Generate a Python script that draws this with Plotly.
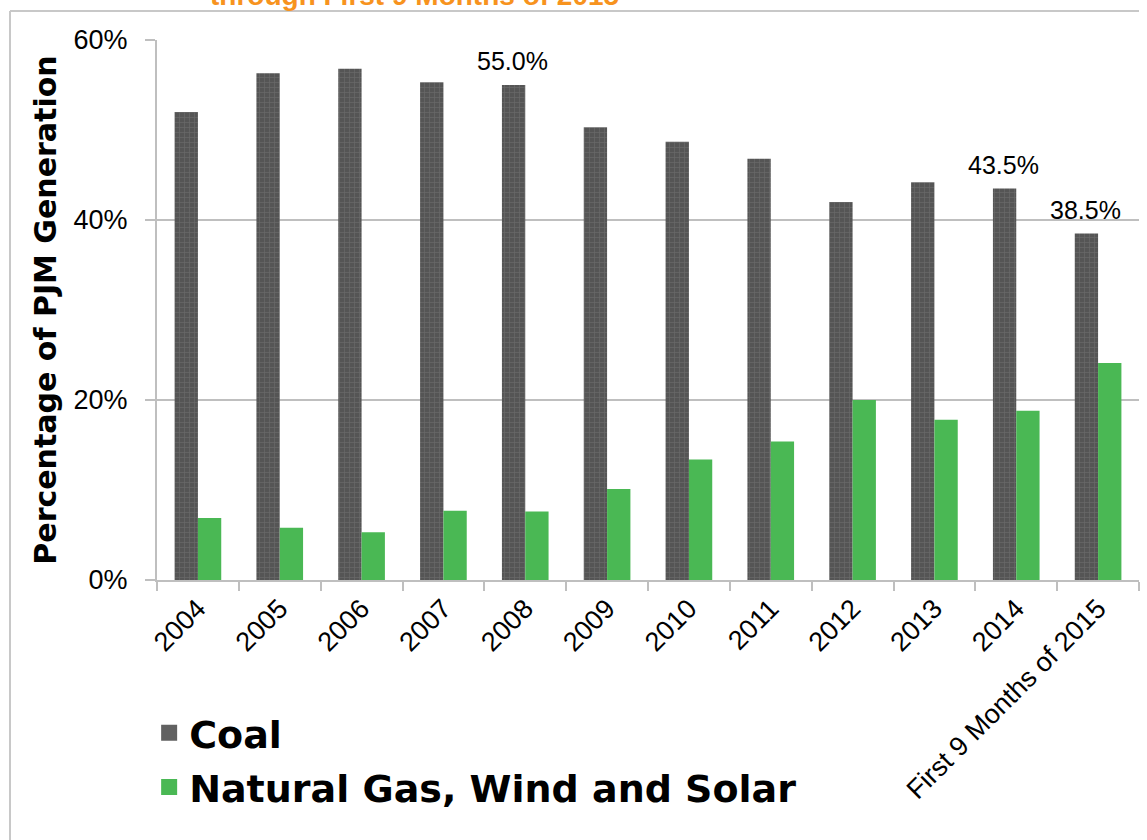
import plotly.graph_objects as go

# Share of PJM generation by fuel group
categories = ["2004", "2005", "2006", "2007", "2008", "2009", "2010",
              "2011", "2012", "2013", "2014", "First 9 Months of 2015"]
coal = [52.0, 56.3, 56.8, 55.3, 55.0, 50.3, 48.7, 46.8, 42.0, 44.2, 43.5, 38.5]
gas_wind_solar = [6.9, 5.8, 5.3, 7.7, 7.6, 10.1, 13.4, 15.4, 20.0, 17.8, 18.8, 24.1]
labelled_years = ["2008", "2014", "First 9 Months of 2015"]
y_ticks = [0, 20, 40, 60]

AXIS_GREY = "#BFBFBF"
ORANGE = "#F7931E"
COAL_GREY = "#5B5B5B"
GREEN = "#4AB854"

fig = go.Figure()
fig.add_trace(go.Bar(
    x=categories, y=coal, name="Coal", showlegend=False,
    marker=dict(
        color=COAL_GREY,
        line=dict(width=0),
        pattern=dict(shape="+", size=5, solidity=0.25,
                     fgcolor="#7E7E7E", bgcolor="#555555"),
    ),
))
fig.add_trace(go.Bar(
    x=categories, y=gas_wind_solar, name="Natural Gas, Wind and Solar",
    showlegend=False,
    marker=dict(color=GREEN, line=dict(width=0)),
))

# Legend entries with larger square keys
for name, color, group in [("Coal", "#616161", "coal"),
                           ("Natural Gas, Wind and Solar", GREEN, "gas")]:
    fig.add_trace(go.Scatter(
        x=[None], y=[None], mode="markers", name=name, legendgroup=group,
        marker=dict(symbol="square", size=20, color=color),
    ))

# Value labels above selected coal bars (positioned by category index)
for cat in labelled_years:
    i = categories.index(cat)
    v = coal[i]
    fig.add_annotation(
        x=i, y=v, text=f"{v:.1f}%", showarrow=False,
        yanchor="bottom", xshift=-13, yshift=8,
        font=dict(family="Liberation Sans, Arial", size=25, color="#000000"),
    )

# Title line (partly above the page edge)
fig.add_annotation(
    xref="paper", yref="paper", x=0.262, y=1.0 + 45 / 540,
    xanchor="center", yanchor="middle", showarrow=False,
    text="through First 9 Months of 2015",
    font=dict(family="Liberation Sans, Arial", size=28, color=ORANGE, weight="bold"),
)

# Slide frame lines
fig.add_shape(type="line", xref="paper", yref="paper",
              x0=-147 / 982, x1=1.0, y0=1 + 29 / 540, y1=1 + 29 / 540,
              line=dict(color="#C8C8C8", width=2))
fig.add_shape(type="line", xref="paper", yref="paper",
              x0=-147 / 982, x1=-147 / 982, y0=1 + 29 / 540, y1=-260 / 540,
              line=dict(color="#C8C8C8", width=2))

fig.update_layout(
    width=1147, height=840,
    margin=dict(l=157, r=8, t=40, b=260),
    paper_bgcolor="white", plot_bgcolor="white",
    barmode="group", bargap=0.43, bargroupgap=0,
    font=dict(family="Liberation Sans, Arial", color="#000000"),
    showlegend=True,
    legend=dict(
        x=-0.008, y=-0.225, xanchor="left", yanchor="top",
        traceorder="grouped", tracegroupgap=2,
        font=dict(family="DejaVu Sans", size=38, color="#000000", weight="bold"),
        itemwidth=30, bgcolor="rgba(0,0,0,0)",
    ),
    xaxis=dict(
        type="category", range=[-0.5, len(categories) - 0.5],
        tickangle=-45, tickson="boundaries",
        ticks="outside", ticklen=9, tickcolor=AXIS_GREY, tickwidth=2,
        showline=True, linecolor=AXIS_GREY, linewidth=2,
        tickfont=dict(size=27, family="Liberation Sans, Arial"),
        showgrid=False,
    ),
    yaxis=dict(
        range=[0, 60], tickvals=y_ticks,
        ticktext=[f"{t}%" for t in y_ticks],
        ticks="outside", ticklen=10, tickcolor=AXIS_GREY, tickwidth=2,
        ticklabelstandoff=12,
        showline=True, linecolor=AXIS_GREY, linewidth=2,
        showgrid=True, gridcolor=AXIS_GREY, gridwidth=2,
        zeroline=False,
        tickfont=dict(size=27, family="Liberation Sans, Arial"),
        title=dict(text="Percentage of PJM Generation", standoff=8,
                   font=dict(family="DejaVu Sans", size=30, weight="bold")),
    ),
)

fig.write_html("out.html")
